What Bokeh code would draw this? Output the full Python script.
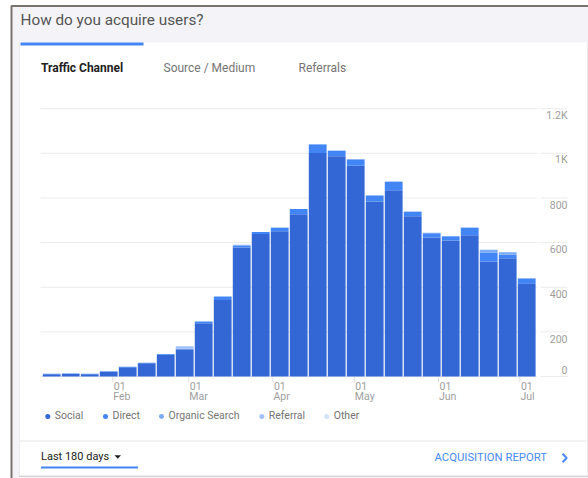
import datetime as dt
from bokeh.plotting import figure
from bokeh.models import Range1d, ColumnDataSource
from bokeh.core.properties import value
from bokeh.embed import file_html
from bokeh.resources import INLINE

# ---------------- data ----------------
title_text = "How do you acquire users?"
tab_labels = ["Traffic Channel", "Source / Medium", "Referrals"]

week_start = ["2019-01-06", "2019-01-13", "2019-01-20", "2019-01-27",
              "2019-02-03", "2019-02-10", "2019-02-17", "2019-02-24",
              "2019-03-03", "2019-03-10", "2019-03-17", "2019-03-24", "2019-03-31",
              "2019-04-07", "2019-04-14", "2019-04-21", "2019-04-28",
              "2019-05-05", "2019-05-12", "2019-05-19", "2019-05-26",
              "2019-06-02", "2019-06-09", "2019-06-16", "2019-06-23", "2019-06-30"]

series_names = ["Social", "Direct", "Organic Search", "Referral", "Other"]
social = [10, 11, 10, 21, 41, 59, 97, 121, 239, 343, 578, 638, 651,
          727, 1001, 987, 944, 784, 835, 718, 623, 609, 633, 515, 530, 415]
direct = [2, 2, 2, 3, 3, 3, 4, 3, 7, 15, 8, 9, 15,
          24, 38, 23, 28, 25, 37, 19, 19, 16, 33, 41, 16, 24]
organic = [0, 0, 0, 0, 0, 0, 0, 0, 0, 0, 4, 0, 2,
           0, 3, 3, 3, 3, 2, 2, 2, 5, 2, 12, 11, 2]
referral = [0, 0, 0, 0, 0, 0, 0, 12, 0, 0, 0, 0, 0,
            0, 0, 0, 0, 0, 0, 0, 0, 0, 0, 0, 0, 0]
other = [0, 0, 0, 0, 0, 0, 0, 0, 0, 0, 0, 0, 0,
         0, 0, 0, 0, 0, 0, 0, 0, 0, 0, 0, 0, 0]

y_tick_values = [0, 200, 400, 600, 800, 1000, 1200]
y_tick_labels = ["0", "200", "400", "600", "800", "1K", "1.2K"]

month_tick_dates = ["2019-02-01", "2019-03-01", "2019-04-01",
                    "2019-05-01", "2019-06-01", "2019-07-01"]
month_day_labels = ["01", "01", "01", "01", "01", "01"]
month_names = ["Feb", "Mar", "Apr", "May", "Jun", "Jul"]

range_label = "Last 180 days"
report_label = "ACQUISITION REPORT"

# ---------------- styling / layout ----------------
colors = ["#3367d6", "#4285f4", "#7baaf7", "#a1c2fa", "#d2e3fc"]
FONT = value("Roboto")
W, H = 588, 478
DAY_MS = 86400000.0
PX_PER_DAY = 19.0 / 7.0
BAR_X0 = 41.7          # pixel of first week start
Y0_PX = 376.0          # pixel of value 0
PX_PER_USER = 0.2232


def lift(fs):
    # correction so that the alphabetic baseline lands where wanted
    return -(0.3 * fs + 1.0)


def ms(s):
    d = dt.datetime.strptime(s, "%Y-%m-%d").replace(tzinfo=dt.timezone.utc)
    return d.timestamp() * 1000.0


t0 = ms(week_start[0])


def px_to_ms(px):
    return t0 + (px - BAR_X0) / PX_PER_DAY * DAY_MS


p = figure(width=W, height=H, output_backend="svg", toolbar_location=None,
           x_range=Range1d(0, W), y_range=Range1d(H, 0),
           x_axis_type=None, y_axis_type=None, min_border=0,
           outline_line_color=None)
p.grid.visible = False
p.background_fill_color = "white"
p.border_fill_color = "white"
p.extra_x_ranges = {"date": Range1d(px_to_ms(0), px_to_ms(W))}
p.extra_y_ranges = {"users": Range1d(-(H - Y0_PX) / PX_PER_USER, Y0_PX / PX_PER_USER)}

# page background + border
p.quad(left=[11], right=[592], top=[5.5], bottom=[482], fill_color="#f4f4f8",
       line_color="#77746d", line_width=2)
# card shadow + card
p.quad(left=[18.5], right=[588], top=[42.5], bottom=[476.5], fill_color="#d6d6da", line_color=None)
p.quad(left=[19], right=[587], top=[42], bottom=[475], fill_color="white", line_color=None)
# active tab bar
p.quad(left=[20], right=[143], top=[42], bottom=[45], fill_color="#4285f4", line_color=None)

# title
p.text(x=[20], y=[25 + lift(15.3)], text=[title_text], text_font=FONT, text_font_size="15.3px",
       text_color="#555555", text_baseline="alphabetic", text_align="left")
# tabs
tab_x = [40.5, 163, 298]
p.text(x=tab_x[:1], y=[72 + lift(12)], text=tab_labels[:1], text_font=FONT, text_font_size="12px",
       text_font_style="bold", text_color="#212121", text_baseline="alphabetic")
p.text(x=tab_x[1:], y=[72 + lift(12)] * 2, text=tab_labels[1:], text_font=FONT,
       text_font_size="12px", text_color="#757575", text_baseline="alphabetic")

# gridlines (from y tick values)
n = len(y_tick_values)
p.segment(x0=[40] * n, x1=[537] * n, y0=y_tick_values, y1=y_tick_values,
          y_range_name="users", line_color="#ebebeb", line_width=1)
p.segment(x0=[540] * n, x1=[567] * n, y0=y_tick_values, y1=y_tick_values,
          y_range_name="users", line_color="#ebebeb", line_width=1)

# y labels
p.text(x=[567] * n, y=y_tick_values, text=y_tick_labels,
       y_offset=[(-2.7 if v == 0 else 10.8) + lift(10.5) for v in y_tick_values],
       y_range_name="users", text_font=FONT, text_font_size="10.5px",
       text_color="#9e9e9e", text_align="right", text_baseline="alphabetic")

# bars
src = ColumnDataSource(dict(
    x=[ms(d) + 3.5 * DAY_MS for d in week_start],
    social=social, direct=direct, organic=organic, referral=referral, other=other))
p.vbar_stack(["social", "direct", "organic", "referral", "other"], x="x",
             width=7 * DAY_MS * 17.8 / 19.0, fill_color=colors, line_color=None,
             source=src, x_range_name="date", y_range_name="users")

# x ticks + labels
mt = [ms(d) for d in month_tick_dates]
m = len(mt)
p.segment(x0=mt, x1=mt, y0=[376.5] * m, y1=[382] * m, x_range_name="date",
          line_color="#dddddd", line_width=1)
p.text(x=mt, y=[390 + lift(10.5)] * m, text=month_day_labels, x_offset=1, x_range_name="date",
       text_font=FONT, text_font_size="10.5px", text_color="#9e9e9e",
       text_align="left", text_baseline="alphabetic")
p.text(x=mt, y=[400.5 + lift(10.5)] * m, text=month_names, x_offset=0.5, x_range_name="date",
       text_font=FONT, text_font_size="10.5px", text_color="#9e9e9e",
       text_align="left", text_baseline="alphabetic")

# legend
leg_x = [47.3, 105, 161, 261.3, 326.2]
p.scatter(x=leg_x, y=[416] * 5, size=5, fill_color=colors, line_color=None)
p.text(x=[v + 7 for v in leg_x], y=[419.5 + lift(10.5)] * 5, text=series_names, text_font=FONT,
       text_font_size="10.5px", text_color="#757575", text_baseline="alphabetic")

# footer
p.segment(x0=[19], x1=[587], y0=[440.5], y1=[440.5], line_color="#e6e6e6", line_width=1)
p.text(x=[40.5], y=[460.5 + lift(11)], text=[range_label], text_font=FONT, text_font_size="11px",
       text_color="#212121", text_baseline="alphabetic")
p.patch(x=[114, 120.5, 117.25], y=[454.8, 454.8, 458.3], fill_color="#212121", line_color=None)
p.quad(left=[40.5], right=[137.5], top=[466], bottom=[468], fill_color="#4285f4", line_color=None)
p.text(x=[546.5], y=[461.3 + lift(11.3)], text=[report_label], text_font=FONT,
       text_font_size="11.3px", text_color="#4a8af4", text_align="right",
       text_baseline="alphabetic")
p.line(x=[562, 566.2, 562], y=[453.3, 457.5, 461.7], line_color="#4a8af4", line_width=2)

open("out.html", "w").write(file_html(p, INLINE))
